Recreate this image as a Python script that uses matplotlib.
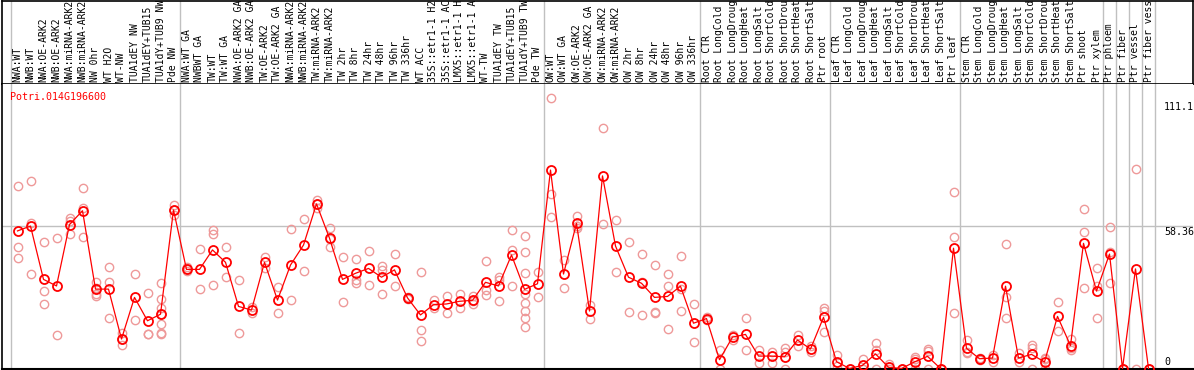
import matplotlib
matplotlib.use("Agg")
import matplotlib.pyplot as plt

labels = [
    "NWA:WT", "NWB:WT", "NWA:OE-ARK2", "NWB:OE-ARK2", "NWA:miRNA-ARK2", "NWB:miRNA-ARK2",
    "NW 0hr", "WT H2O", "WT-NW", "TUA1dEY NW", "TUA1dEY+TUB15", "TUA1dY+TUB9 NW", "Pde NW",
    "NWA:WT GA", "NWBWT GA", "TW:WT", "TW:WT GA", "NWA:OE-ARK2 GA", "NWB:OE-ARK2 GA",
    "TW:OE-ARK2", "TW:OE-ARK2 GA", "NWA:miRNA-ARK2", "NWB:miRNA-ARK2", "TW:miRNA-ARK2",
    "TW:miRNA-ARK2", "TW 2hr", "TW 8hr", "TW 24hr", "TW 48hr", "TW 96hr", "TW 336hr",
    "WT ACC", "35S::etr1-1 H2", "35S::etr1-1 AC", "LMX5::etr1-1 H", "LMX5::etr1-1 A",
    "WT-TW", "TUA1dEY TW", "TUA1dEY+TUB15", "TUA1dY+TUB9 TW", "Pde TW",
    "OW:WT", "OW:WT GA", "OW:OE-ARK2", "OW:OE-ARK2 GA", "OW:miRNA-ARK2", "OW:miRNA-ARK2",
    "OW 2hr", "OW 8hr", "OW 24hr", "OW 48hr", "OW 96hr", "OW 336hr",
    "Root CTR", "Root LongCold", "Root LongDroug", "Root LongHeat", "Root LongSalt",
    "Root ShortCold", "Root ShortDrou", "Root ShortHeat", "Root ShortSalt", "Ptr root",
    "Leaf CTR", "Leaf LongCold", "Leaf LongDroug", "Leaf LongHeat", "Leaf LongSalt",
    "Leaf ShortCold", "Leaf ShortDrou", "Leaf ShortHeat", "Leaf ShortSalt", "Ptr leaf",
    "Stem CTR", "Stem LongCold", "Stem LongDroug", "Stem LongHeat", "Stem LongSalt",
    "Stem ShortCold", "Stem ShortDrou", "Stem ShortHeat", "Stem ShortSalt",
    "Ptr shoot", "Ptr xylem", "Ptr phloem", "Ptr fiber", "Ptr vessel", "Ptr fiber vess",
]

means = [
    56.5, 58.5, 36.6, 33.9, 59.1, 64.8, 32.6, 32.6, 12.1, 29.2, 19.6, 22.3, 65.1,
    40.7, 40.7, 48.7, 43.6, 25.5, 24.0, 43.6, 28.1, 42.5, 50.7, 67.6, 53.5, 36.6,
    39.1, 41.1, 37.5, 40.5, 29.0, 22.0, 26.2, 26.5, 27.6, 28.0, 35.4, 33.9, 46.6,
    32.5, 34.8,
    81.5, 38.8, 59.6, 23.6, 79.1, 50.3, 37.5, 35.0, 29.2, 29.6, 33.8, 18.6,
    20.5, 3.6, 12.9, 14.0, 5.1, 5.1, 4.8, 11.7, 8.0, 21.0,
    2.8, 0.0, 1.3, 6.0, 0.5, 0.0, 2.7, 5.0, 0.0, 49.4,
    8.3, 4.0, 4.3, 33.8, 4.3, 5.8, 2.7, 21.4, 9.4, 51.4, 31.8,
    47.0, 0.0, 40.9, 0.0,
]

replicates = [
    [74.8, 49.8, 45.3], [77.0, 59.9, 38.8], [51.8, 31.7, 26.5], [53.5, 13.6],
    [62.0, 60.5, 55.1], [74.0, 65.8, 53.9], [35.4, 33.0, 30.6, 29.8], [41.6, 35.4, 20.6],
    [14.5, 12.1, 9.7], [38.8, 19.9], [30.9, 14.0, 14.0],
    [35.0, 28.5, 24.7, 22.3, 18.3, 14.5, 14.0], [67.1, 65.2, 63.0],
    [41.5, 40.7, 40.0], [49.0, 32.5], [56.9, 55.1, 34.3], [49.8, 37.5], [36.3, 14.5],
    [25.1, 22.9], [45.9, 41.1], [33.3, 22.7], [57.2, 28.1], [61.4, 40.0],
    [69.2, 67.6, 65.8], [57.7, 53.0, 49.8], [45.7, 27.3], [44.8, 36.3, 35.0],
    [48.4, 34.2], [42.2, 40.5, 30.6], [47.0, 33.8], [29.5, 29.0, 28.5],
    [39.5, 15.8, 11.2], [28.1, 24.7], [29.8, 22.7], [30.6, 24.7], [29.8, 27.7, 26.5],
    [44.0, 32.2, 30.2], [37.7, 36.3, 27.7], [56.9, 48.7, 33.9],
    [54.4, 48.0, 39.1, 30.6, 27.0, 23.6, 20.6, 16.9], [39.5, 29.2],
    [111.0, 71.5, 62.1], [44.6, 32.9], [62.6, 58.6, 57.6], [26.1, 20.5],
    [98.6, 59.2], [61.0, 39.5], [51.8, 23.1], [46.9, 35.6, 21.8], [42.4, 23.1, 22.7],
    [38.7, 33.8, 16.1], [46.1, 32.5, 23.5], [26.5, 10.8],
    [21.3, 19.9], [7.6, 0.0], [13.9, 11.7], [20.6, 7.6], [7.6, 2.1], [6.8, 2.4],
    [8.5, 6.9, 0.0], [13.8, 9.2], [9.2, 6.9], [24.7, 23.7, 14.9],
    [5.5, 1.0], [0.0, 0.0], [4.0, 0.0, 0.0], [10.3, 7.6, 0.0], [1.7, 0.0],
    [0.0, 0.0], [4.8, 3.8, 0.0], [7.9, 7.1, 0.0], [0.0, 0.0], [72.4, 53.9, 22.7],
    [11.7, 6.8, 6.5], [4.5, 4.0, 3.5], [5.5, 2.8], [51.1, 29.5, 20.6], [6.2, 2.8],
    [9.6, 8.3, 0.0], [4.4, 3.7, 0.0], [27.2, 15.3], [12.0, 8.6, 7.6],
    [65.4, 55.9, 32.9], [41.1, 33.7, 20.6],
    [58.0, 48.0, 35.0], [0.0, 0.0], [81.8, 0.0], [0.0, 0.0],
]

group_sizes = [13, 28, 12, 10, 10, 11, 1, 1, 1, 1]
gene = "Potri.014G196600"
ref_ticks = [111.1, 58.36, 0]

W, H = 1194, 370
fig = plt.figure(figsize=(W / 100, H / 100), dpi=100)

def px_to_fig(x0, y0, x1, y1):
    return [x0 / W, 1 - y1 / H, (x1 - x0) / W, (y1 - y0) / H]

xlo = (2 - 17.5) / 13
xhi = (1193 - 17.5) / 13
scale = 2.435
ylo = (368.5 - 369) / scale
yhi = (368.5 - 84) / scale

mono = "DejaVu Sans Mono"
fs = 7.0
grid_c = "#c0c0c0"
red = "#ff0000"
pink = "#ee9999"

bounds = [-0.5]
acc = 0
for g in group_sizes:
    acc += g
    bounds.append(acc - 0.5)

# header axes
hax = fig.add_axes(px_to_fig(2, 0.5, 1193, 84))
hax.set_xlim(xlo, xhi)
hax.set_ylim(0, 1)
hax.set_xticks([]); hax.set_yticks([])
for s in hax.spines.values():
    s.set_color("black"); s.set_linewidth(1.2)
for b in bounds:
    hax.axvline(b, color=grid_c, lw=1)
for i, lab in enumerate(labels):
    hax.text(i, 0.02, lab, rotation=90, ha="center", va="bottom",
             fontsize=fs, family=mono, color="black", clip_on=True)

# plot axes
ax = fig.add_axes(px_to_fig(2, 84, 1193, 369))
ax.set_xlim(xlo, xhi)
ax.set_ylim(ylo, yhi)
ax.set_xticks([]); ax.set_yticks([])
for k in ["top", "right"]:
    ax.spines[k].set_visible(False)
ax.spines["left"].set_linewidth(1.2)
ax.spines["bottom"].set_linewidth(1.5)
for b in bounds:
    ax.axvline(b, color=grid_c, lw=1, zorder=0)
ax.axhline(ref_ticks[1], color=grid_c, lw=1, zorder=0)

xs = list(range(len(means)))
for i, reps in enumerate(replicates):
    ax.plot([i] * len(reps), reps, linestyle="none", marker="o", ms=6,
            mfc="none", mec=pink, mew=1.0, zorder=2)
ax.plot(xs, means, color=red, lw=0.9, marker="o", ms=6.5, mfc="none",
        mec=red, mew=1.3, zorder=3)

ax.text(-0.55, (368.5 - 97) / scale, gene, color=red, family=mono, fontsize=fs + 0.2,
        ha="left", va="center")
xr = (1164 - 17.5) / 13
ax.text(xr, (368.5 - 107) / scale, "111.1", family=mono, fontsize=fs + 0.2, ha="left", va="center")
ax.text(xr, (368.5 - 232) / scale, "58.36", family=mono, fontsize=fs + 0.2, ha="left", va="center")
ax.text(xr, (368.5 - 362) / scale, "0", family=mono, fontsize=fs + 0.2, ha="left", va="center")

fig.savefig("out.png", dpi=100)
